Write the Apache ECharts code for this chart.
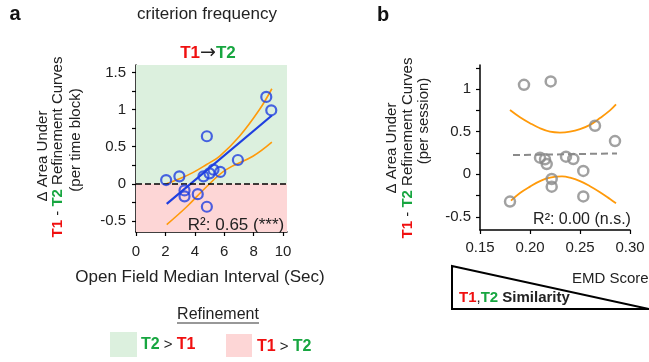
<!DOCTYPE html>
<html>
<head>
<meta charset="utf-8">
<script src="https://cdn.jsdelivr.net/npm/echarts@6/dist/echarts.min.js"></script>
<style>
html,body{margin:0;padding:0;background:#fff;}
#chart{width:649px;height:362px;}
</style>
</head>
<body>
<div id="chart"></div>
<script>
// ---- Panel a data ----
const intervalA = [2.05, 2.95, 3.3, 3.3, 4.2, 4.59, 4.82, 4.82, 5.0, 5.27, 5.73, 6.93, 8.86, 9.2];
const deltaA    = [0.05, 0.10, -0.09, -0.17, -0.14, 0.10, 0.64, -0.31, 0.14, 0.19, 0.16, 0.32, 1.17, 0.99];
const fitAx = [2.09, 9.24];
const fitAy = [-0.27, 0.92];
const upperAx = [2.09, 3.0, 3.86, 4.8, 5.68, 7.04, 8.4, 9.24];
const upperAy = [0.0, 0.07, 0.15, 0.26, 0.37, 0.64, 1.0, 1.28];
const lowerAx = [2.09, 3.45, 4.8, 6.13, 7.95, 9.24];
const lowerAy = [-0.55, -0.31, -0.04, 0.19, 0.37, 0.56];
const xTicksA = [0, 2, 4, 6, 8, 10];
const yTicksA = [-0.5, -0.25, 0, 0.25, 0.5, 0.75, 1, 1.25, 1.5];
const yLabelsA = [-0.5, 0, 0.5, 1, 1.5];

// ---- Panel b data ----
const emdB   = [0.194, 0.2207, 0.180, 0.210, 0.215, 0.2167, 0.2217, 0.2217, 0.236, 0.2433, 0.2533, 0.2533, 0.265, 0.285];
const deltaB = [1.05, 1.09, -0.32, 0.195, 0.176, 0.12, -0.055, -0.145, 0.207, 0.18, 0.04, -0.26, 0.57, 0.39];
const fitBx = [0.183, 0.287];
const fitBy = [0.225, 0.245];
const upperBx = [0.18, 0.19, 0.20, 0.21, 0.22, 0.23, 0.24, 0.25, 0.26, 0.27, 0.28, 0.286];
const upperBy = [0.755, 0.67, 0.60, 0.54, 0.50, 0.49, 0.50, 0.53, 0.58, 0.66, 0.75, 0.82];
const lowerBx = [0.181, 0.19, 0.20, 0.21, 0.22, 0.232, 0.24, 0.25, 0.26, 0.27, 0.28, 0.286];
const lowerBy = [-0.31, -0.22, -0.145, -0.08, -0.04, -0.025, -0.04, -0.08, -0.14, -0.21, -0.29, -0.34];
const xTicksB = [0.15, 0.20, 0.25, 0.30];
const yTicksB = [-0.5, -0.25, 0, 0.25, 0.5, 0.75, 1, 1.25];
const yLabelsB = [-0.5, 0, 0.5, 1];

const zip = (a, b) => a.map((v, i) => [v, b[i]]);

const RED = '#f01010', GREEN = '#17a640', DARK = '#222';
const FONT = 'Liberation Sans, Arial, sans-serif';
const BLUE = '#1f3fe0', ORANGE = '#ff9a0a', GRAY = '#8a8a8a';
const GREEN_BG = '#dcf0de', PINK_BG = '#fdd6d6';

const A_YMIN = -0.65, A_YMAX = 1.6, A_XMAX = 10.27;
const B_YMIN = -0.654, B_YMAX = 1.283;

function axisCommon() {
  return {
    axisLine: { show: true, onZero: false, lineStyle: { color: '#000', width: 1.5 } },
    splitLine: { show: false },
    axisLabel: { color: DARK, fontSize: 15, fontFamily: FONT },
    axisTick: { show: true, inside: false, length: 4, lineStyle: { color: '#000', width: 1.2 } }
  };
}

const chart = echarts.init(document.getElementById('chart'), null, { renderer: 'canvas' });

const xA = axisCommon();
xA.axisTick.customValues = xTicksA;
xA.axisLabel.customValues = xTicksA;
xA.axisLabel.margin = 12;
const yA = axisCommon();
yA.axisTick.customValues = yTicksA;
yA.axisLabel.customValues = yLabelsA;
yA.axisLabel.margin = 10;
const xB = axisCommon();
xB.axisTick.customValues = xTicksB;
xB.axisLabel.customValues = xTicksB;
xB.axisLabel.margin = 10;
xB.axisLabel.formatter = v => v.toFixed(2);
const yB = axisCommon();
yB.axisTick.customValues = yTicksB;
yB.axisLabel.customValues = yLabelsB;
yB.axisLabel.margin = 9;

const option = {
  animation: false,
  backgroundColor: '#fff',
  grid: [
    { left: 136, top: 65, width: 151, height: 167 },
    { left: 480, top: 65, width: 150, height: 165 }
  ],
  xAxis: [
    Object.assign({ type: 'value', gridIndex: 0, min: 0, max: A_XMAX }, xA),
    Object.assign({ type: 'value', gridIndex: 1, min: 0.15, max: 0.30 }, xB)
  ],
  yAxis: [
    Object.assign({ type: 'value', gridIndex: 0, min: A_YMIN, max: A_YMAX }, yA),
    Object.assign({ type: 'value', gridIndex: 1, min: B_YMIN, max: B_YMAX }, yB)
  ],
  series: [
    {
      type: 'line', xAxisIndex: 0, yAxisIndex: 0, data: [], silent: true,
      markArea: {
        silent: true,
        data: [
          [{ yAxis: 0, itemStyle: { color: GREEN_BG } }, { yAxis: A_YMAX }],
          [{ yAxis: A_YMIN, itemStyle: { color: PINK_BG } }, { yAxis: 0 }]
        ]
      },
      markLine: {
        silent: true, symbol: 'none', label: { show: false },
        lineStyle: { color: '#000', type: [6, 3], width: 1.6 },
        data: [{ yAxis: 0 }]
      },
      z: 1
    },
    { type: 'line', xAxisIndex: 0, yAxisIndex: 0, data: zip(upperAx, upperAy), smooth: 0.4, symbol: 'none',
      lineStyle: { color: ORANGE, width: 1.6 }, z: 3 },
    { type: 'line', xAxisIndex: 0, yAxisIndex: 0, data: zip(lowerAx, lowerAy), smooth: 0.4, symbol: 'none',
      lineStyle: { color: ORANGE, width: 1.6 }, z: 3 },
    { type: 'line', xAxisIndex: 0, yAxisIndex: 0, data: zip(fitAx, fitAy), symbol: 'none',
      lineStyle: { color: BLUE, width: 2.2 }, z: 4 },
    { type: 'scatter', xAxisIndex: 0, yAxisIndex: 0, data: zip(intervalA, deltaA), symbol: 'circle', symbolSize: 10,
      itemStyle: { color: 'rgba(0,0,0,0)', borderColor: BLUE, borderWidth: 2.2 }, z: 5 },

    { type: 'line', xAxisIndex: 1, yAxisIndex: 1, data: zip(upperBx, upperBy), smooth: 0.4, symbol: 'none',
      lineStyle: { color: ORANGE, width: 1.8 }, z: 3 },
    { type: 'line', xAxisIndex: 1, yAxisIndex: 1, data: zip(lowerBx, lowerBy), smooth: 0.4, symbol: 'none',
      lineStyle: { color: ORANGE, width: 1.8 }, z: 3 },
    { type: 'line', xAxisIndex: 1, yAxisIndex: 1, data: zip(fitBx, fitBy), symbol: 'none',
      lineStyle: { color: GRAY, width: 2, type: [7, 4] }, z: 4 },
    { type: 'scatter', xAxisIndex: 1, yAxisIndex: 1, data: zip(emdB, deltaB), symbol: 'circle', symbolSize: 10,
      itemStyle: { color: 'rgba(0,0,0,0)', borderColor: GRAY, borderWidth: 2.5 }, z: 5 }
  ],
  graphic: []
};

const g = option.graphic;
function txt(x, y, text, opts) {
  g.push(Object.assign({
    type: 'text', x: x, y: y, silent: true, z: 100,
    style: Object.assign({
      text: text, fill: DARK, fontSize: 15, fontFamily: FONT,
      align: 'center', verticalAlign: 'middle'
    }, opts && opts.style || {})
  }, opts && opts.el || {}));
}
const richTG = {
  r: { fill: RED, fontWeight: 'bold', fontSize: 15, fontFamily: FONT },
  g: { fill: GREEN, fontWeight: 'bold', fontSize: 15, fontFamily: FONT },
  k: { fill: DARK, fontSize: 15, fontFamily: FONT }
};

// panel labels & titles
txt(15, 14, 'a', { style: { fontSize: 20, fontWeight: 'bold', fill: '#111' } });
txt(383, 15, 'b', { style: { fontSize: 20, fontWeight: 'bold', fill: '#111' } });
txt(207, 14, 'criterion frequency', { style: { fontSize: 17 } });
txt(208, 53, '{r|T1}{k|→}{g|T2}', { style: { rich: {
  r: { fill: RED, fontWeight: 'bold', fontSize: 17, fontFamily: FONT },
  g: { fill: GREEN, fontWeight: 'bold', fontSize: 17, fontFamily: FONT },
  k: { fill: DARK, fontSize: 19, fontFamily: 'DejaVu Sans, sans-serif' } } } });

// y titles panel a
const ROT = Math.PI / 2;
txt(43, 156, 'Δ Area Under', { el: { rotation: ROT } });
txt(58, 147, '{r|T1}{k| - }{g|T2}{k| Refinement Curves}', { el: { rotation: ROT }, style: { rich: richTG } });
txt(76, 140, '(per time block)', { el: { rotation: ROT } });
// y titles panel b
txt(392, 148, 'Δ Area Under', { el: { rotation: ROT } });
txt(408, 148, '{r|T1}{k| - }{g|T2}{k| Refinement Curves}', { el: { rotation: ROT }, style: { rich: richTG } });
txt(424, 121, '(per session)', { el: { rotation: ROT } });

// x title panel a
txt(200, 277, 'Open Field Median Interval (Sec)', { style: { fontSize: 17 } });

// R² annotations
txt(236, 225, 'R²: 0.65 (***)', { style: { fontSize: 17 } });
txt(582, 220, 'R²: 0.00 (n.s.)', { style: { fontSize: 16 } });

// EMD score triangle
g.push({ type: 'polygon', silent: true, z: 100,
  shape: { points: [[452, 266], [452, 309], [649, 309]] },
  style: { fill: 'none', stroke: '#000', lineWidth: 2 } });
txt(572, 279, 'EMD Score', { style: { align: 'left', fontSize: 15 } });
txt(459, 298, '{r|T1}{k|,}{g|T2}{b| Similarity}', { style: { align: 'left', rich: {
  r: { fill: RED, fontWeight: 'bold', fontSize: 15, fontFamily: FONT },
  g: { fill: GREEN, fontWeight: 'bold', fontSize: 15, fontFamily: FONT },
  k: { fill: DARK, fontSize: 15, fontFamily: FONT },
  b: { fill: DARK, fontWeight: 'bold', fontSize: 15, fontFamily: FONT } } } });

// legend
txt(218, 315, 'Refinement', { style: { fontSize: 16 } });
g.push({ type: 'line', silent: true, z: 100, shape: { x1: 177, y1: 323, x2: 259, y2: 323 },
  style: { stroke: '#333', lineWidth: 1.2 } });
g.push({ type: 'rect', silent: true, z: 100, shape: { x: 110, y: 332, width: 27, height: 25 }, style: { fill: GREEN_BG } });
g.push({ type: 'rect', silent: true, z: 100, shape: { x: 226, y: 334, width: 26, height: 23 }, style: { fill: PINK_BG } });
const richLeg = {
  r: { fill: RED, fontWeight: 'bold', fontSize: 16, fontFamily: FONT },
  g: { fill: GREEN, fontWeight: 'bold', fontSize: 16, fontFamily: FONT },
  k: { fill: DARK, fontSize: 15, fontFamily: FONT }
};
txt(141, 345, '{g|T2}{k| > }{r|T1}', { style: { align: 'left', rich: richLeg } });
txt(257, 347, '{r|T1}{k| > }{g|T2}', { style: { align: 'left', rich: richLeg } });

chart.setOption(option);
</script>
</body>
</html>
